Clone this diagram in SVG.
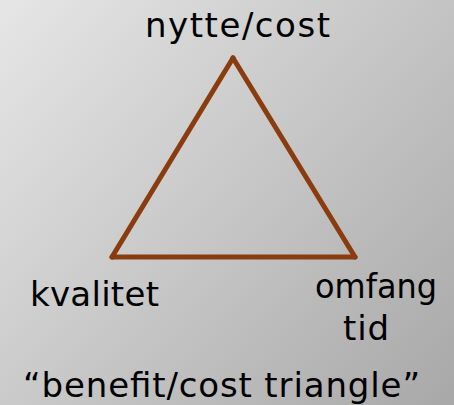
<svg xmlns="http://www.w3.org/2000/svg" width="454" height="405" viewBox="0 0 454 405">
  <defs>
    <linearGradient id="bg" x1="0" y1="0" x2="454" y2="405" gradientUnits="userSpaceOnUse">
      <stop offset="0" stop-color="#e6e6e6"/>
      <stop offset="1" stop-color="#a8a8a8"/>
    </linearGradient>
  </defs>
  <style>
    .lbl { font-family: "Comic Sans MS", "DejaVu Sans", sans-serif; font-size: 34px; fill: #000; }
    .edge { stroke: #8a3c0f; stroke-width: 5; stroke-linecap: round; fill: none; }
  </style>
  <rect x="0" y="0" width="454" height="405" fill="url(#bg)"/>
  <g id="connectors">
    <line class="edge" x1="233" y1="58" x2="112" y2="257"/>
    <line class="edge" x1="233" y1="58" x2="355" y2="257"/>
    <line class="edge" x1="112" y1="257" x2="355" y2="257"/>
  </g>
  <g id="node-nytte">
    <text class="lbl" x="145" y="37" textLength="185" lengthAdjust="spacing">nytte/cost</text>
  </g>
  <g id="node-kvalitet">
    <text class="lbl" x="30" y="306" textLength="129" lengthAdjust="spacing">kvalitet</text>
  </g>
  <g id="node-omfang">
    <text class="lbl" x="315" y="298" textLength="122" lengthAdjust="spacingAndGlyphs">omfang</text>
    <text class="lbl" x="343" y="340" textLength="46" lengthAdjust="spacing">tid</text>
  </g>
  <g id="caption">
    <text class="lbl" x="23" y="397" textLength="397" lengthAdjust="spacing">“benefit/cost triangle”</text>
  </g>
</svg>
